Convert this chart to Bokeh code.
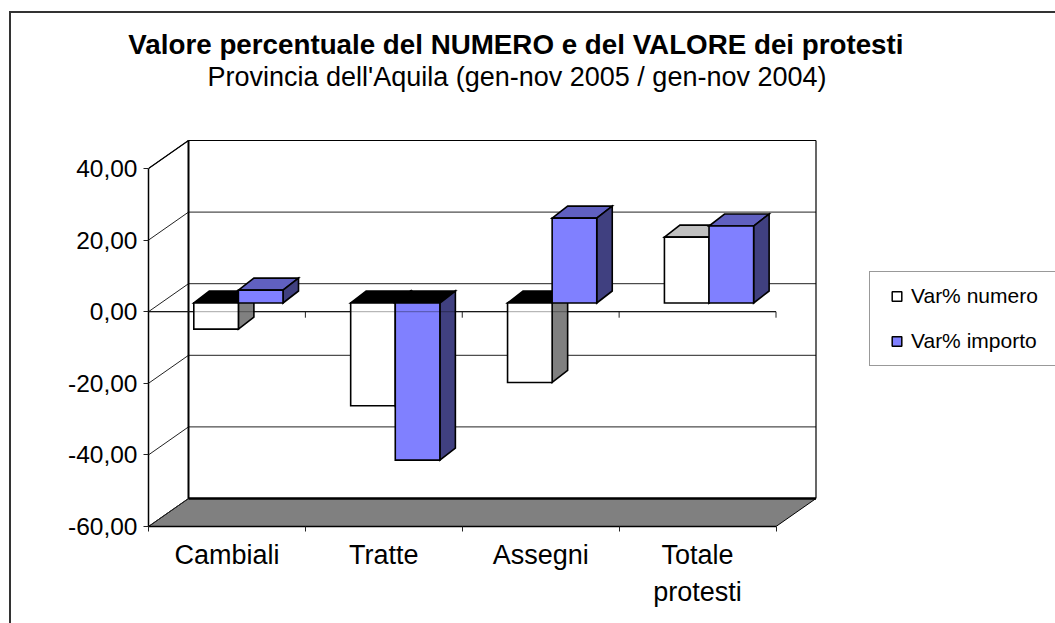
from bokeh.plotting import figure
from bokeh.embed import file_html
from bokeh.resources import INLINE
from bokeh.models import LinearAxis, FixedTicker, Range1d, Title, Legend, LegendItem
from bokeh.core.properties import value

categories = ["Cambiali", "Tratte", "Assegni", "Totale\nprotesti"]
var_numero = [-7.3, -28.7, -22.2, 18.4]
var_importo = [3.6, -43.9, 23.7, 21.5]
y_ticks = [-60, -40, -20, 0, 20, 40]
y_labels = ["-60,00", "-40,00", "-20,00", "0,00", "20,00", "40,00"]
series_names = ["Var% numero", "Var% importo"]
title_text = "Valore percentuale del NUMERO e del VALORE dei protesti"
subtitle_text = "Provincia dell'Aquila (gen-nov 2005 / gen-nov 2004)"

FONT = "Liberation Sans"
W, H = 1055, 623
PX_CAT = 156.875
PX_VAL = 3.58
FRAME_L, FRAME_T, FRAME_B = 148, 91, 526
xmax = (W - FRAME_L) / PX_CAT
ymax = -60 + (FRAME_B - FRAME_T) / PX_VAL

p = figure(width=W, height=H, output_backend="svg", toolbar_location=None,
           x_range=Range1d(0, xmax), y_range=Range1d(-60, ymax),
           x_axis_type=None, y_axis_type=None,
           min_border_left=FRAME_L, min_border_right=0,
           min_border_top=FRAME_T, min_border_bottom=H - FRAME_B)
p.grid.visible = False
p.outline_line_color = None
p.border_fill_color = None
p.background_fill_color = None
# outer chart border, cropped by the picture on the right and at the bottom
p.styles = {"background": "linear-gradient(#333,#333) 9px 11px / 100% 2px no-repeat, "
                          "linear-gradient(#333,#333) 9px 11px / 2px 100% no-repeat"}

def dx(px):
    return px / PX_CAT

def dy(px):
    return px / PX_VAL

# value axis
yaxis = LinearAxis(ticker=FixedTicker(ticks=y_ticks),
                   major_label_overrides=dict(zip(y_ticks, y_labels)),
                   bounds=(-60, 40), axis_line_width=1.5, axis_line_color="black",
                   major_tick_in=0, major_tick_out=5, minor_tick_line_color=None,
                   major_tick_line_color="#222222",
                   major_label_text_font=FONT, major_label_text_font_size="24.5px",
                   major_label_text_color="black", major_label_standoff=6)
p.add_layout(yaxis, "left")

# category axis
centers = [i + 0.5 for i in range(len(categories))]
xaxis = LinearAxis(ticker=FixedTicker(ticks=centers, minor_ticks=list(range(len(categories) + 1))),
                   major_label_overrides=dict(zip(centers, categories)),
                   bounds=(0, len(categories)), axis_line_width=1.5, axis_line_color="black",
                   major_tick_line_color=None, major_tick_in=0, major_tick_out=0,
                   minor_tick_in=0, minor_tick_out=5, minor_tick_line_color="#222222",
                   major_label_text_font=FONT, major_label_text_font_size="27px",
                   major_label_text_color="black", major_label_standoff=8,
                   major_label_text_line_height=1.25)
p.add_layout(xaxis, "below")

# titles
p.add_layout(Title(text=subtitle_text, align="right", offset=W - 826, standoff=0,
                   text_font=FONT, text_font_size="27px", text_font_style="normal",
                   text_color="black"), "above")
p.add_layout(Title(text=title_text, align="right", offset=W - 903, standoff=0,
                   text_font=FONT, text_font_size="27.75px", text_font_style="bold",
                   text_color="black"), "above")

# walls
n = len(categories)
DX, DY = dx(40), dy(28)
p.patch([DX, n + DX, n, 0], [-60 + DY, -60 + DY, -60, -60], fill_color="#808080",
        line_color="black", line_width=1)
for t in y_ticks:
    p.line([0, DX, n + DX], [t, t + DY, t + DY], line_color="#222222", line_width=1)
p.line([DX, DX], [-60 + DY, 40 + DY], line_color="black", line_width=2)
p.line([n + DX, n + DX], [-60 + DY, 40 + DY], line_color="black", line_width=1.2)
p.line([0, DX], [40, 40 + DY], line_color="black", line_width=1.2)
p.line([DX, n + DX], [40 + DY, 40 + DY], line_color="black", line_width=1.2)
p.line([DX, n + DX], [-60 + DY, -60 + DY], line_color="black", line_width=2.5)
p.line([0, n], [0, 0], line_color="#222222", line_width=1.2)
p.segment(list(range(1, n + 1)), [0] * n, list(range(1, n + 1)), [-dy(6)] * n,
          line_color="#222222", line_width=1)

# 3D bars
OFF_X, BAR_W = dx(45.3), dx(44.6)
BASE = dy(8.7)
BDX, BDY = dx(15.5), dy(12)
styles = [
    {"front": "#FFFFFF", "top_up": "#C0C0C0", "side": "#808080"},
    {"front": "#8080FF", "top_up": "#6060C0", "side": "#404080"},
]
xs, ys, fills = [], [], []
for i in range(n):
    for s, vals in enumerate((var_numero, var_importo)):
        v = vals[i]
        x0 = i + OFF_X + s * BAR_W
        x1 = x0 + BAR_W
        lo, hi = min(v, 0) + BASE, max(v, 0) + BASE
        st = styles[s]
        xs.append([x0, x1, x1 + BDX, x0 + BDX])
        ys.append([hi, hi, hi + BDY, hi + BDY])
        fills.append(st["top_up"] if v > 0 else "#000000")
        xs.append([x1, x1 + BDX, x1 + BDX, x1])
        ys.append([hi, hi + BDY, lo + BDY, lo])
        fills.append(st["side"])
        xs.append([x0, x1, x1, x0])
        ys.append([lo, lo, hi, hi])
        fills.append(st["front"])
p.patches(xs, ys, fill_color=fills, line_color="black", line_width=1.6, line_join="miter")
p.line([0, n], [0, 0], line_color="#000000", line_alpha=0.35, line_width=1)

# legend
nan = float("nan")
r1 = p.scatter([nan], [nan], marker="square", fill_color=styles[0]["front"], line_color="black", line_width=1.5)
r2 = p.scatter([nan], [nan], marker="square", fill_color=styles[1]["front"], line_color="black", line_width=1.5)
legend = Legend(items=[LegendItem(label=value(series_names[0]), renderers=[r1]),
                       LegendItem(label=value(series_names[1]), renderers=[r2])],
                location=(721, 160), margin=0, padding=12, spacing=21,
                glyph_width=29, glyph_height=24, label_standoff=0, label_width=132,
                label_text_font=FONT, label_text_font_size="21px", label_text_color="black",
                border_line_color="#333333", border_line_width=1, background_fill_alpha=1)
p.add_layout(legend, "center")

open("out.html", "w").write(file_html(p, INLINE))
